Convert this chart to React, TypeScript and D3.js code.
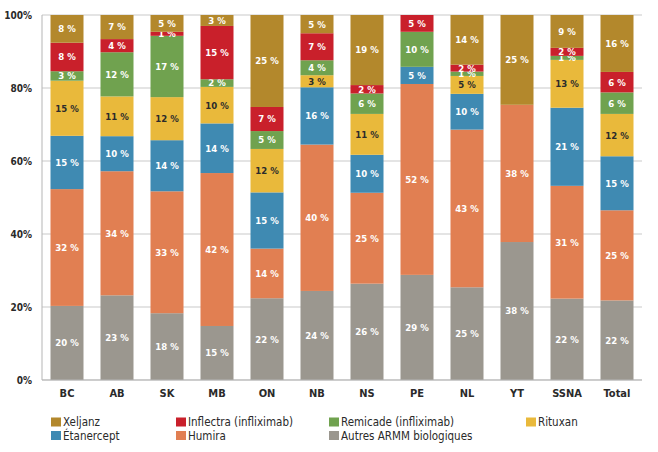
import React from 'react';
import * as d3 from 'd3';

const categories = ['BC', 'AB', 'SK', 'MB', 'ON', 'NB', 'NS', 'PE', 'NL', 'YT', 'SSNA', 'Total'];
const autres = [20.3, 23.2, 18.3, 14.8, 22.4, 24.4, 26.4, 28.8, 25.4, 37.8, 22.3, 21.8];
const humira = [32.0, 34.0, 33.4, 41.9, 13.6, 40.1, 24.9, 52.3, 43.2, 37.6, 30.9, 24.7];
const etanercept = [14.6, 9.6, 14.0, 13.6, 15.4, 15.7, 10.4, 4.7, 9.8, 0, 21.4, 14.8];
const rituxan = [15.1, 10.9, 11.8, 10.0, 11.9, 3.3, 11.2, 0, 4.9, 0, 13.1, 11.6];
const remicade = [2.6, 12.1, 16.8, 2.1, 4.9, 4.1, 5.6, 9.6, 1.2, 0, 1.1, 5.9];
const inflectra = [7.8, 3.6, 1.1, 14.6, 6.6, 7.4, 2.3, 4.6, 1.9, 0, 2.2, 5.6];
const xeljanz = [7.6, 6.6, 4.6, 3.0, 25.2, 5.0, 19.2, 0, 13.6, 24.6, 9.0, 15.6];
const yTicks = [0, 20, 40, 60, 80, 100];

const seriesKeys = ['autres', 'humira', 'etanercept', 'rituxan', 'remicade', 'inflectra', 'xeljanz'];
const seriesNames: Record<string, string> = {
  autres: 'Autres ARMM biologiques',
  humira: 'Humira',
  etanercept: 'Étanercept',
  rituxan: 'Rituxan',
  remicade: 'Remicade (infliximab)',
  inflectra: 'Inflectra (infliximab)',
  xeljanz: 'Xeljanz',
};
const seriesValues: Record<string, number[]> = { autres, humira, etanercept, rituxan, remicade, inflectra, xeljanz };
const colors: Record<string, string> = {
  autres: '#9b978f',
  humira: '#e17f52',
  etanercept: '#3f8ab2',
  rituxan: '#e9b93b',
  remicade: '#70a24f',
  inflectra: '#c9202b',
  xeljanz: '#b3882c',
};
const legendRows = [
  ['xeljanz', 'inflectra', 'remicade', 'rituxan'],
  ['etanercept', 'humira', 'autres'],
];
const legendCols = [51, 176, 329, 526];

const FONT = "'DejaVu Sans Condensed', 'DejaVu Sans', sans-serif";

export default function App() {
  const W = 658, H = 452;
  const left = 42, right = 642, top = 15, bottom = 380;
  const table = categories.map((c, i) => {
    const row: any = { cat: c };
    seriesKeys.forEach(k => (row[k] = seriesValues[k][i]));
    return row;
  });
  const stacked = d3.stack().keys(seriesKeys)(table as any);
  const x = d3.scaleBand().domain(categories).range([left, right]).paddingInner(0.34).paddingOuter(0.17);
  const y = d3.scaleLinear().domain([0, 100]).range([bottom, top]);

  return (
    <svg width={W} height={H} style={{ position: 'absolute', left: 0, top: 0, fontFamily: FONT }}>
      <rect width={W} height={H} fill="#fff" />
      {yTicks.map(t => (
        <g key={t}>
          <line x1={left} x2={right} y1={y(t)} y2={y(t)} stroke="#c9c9c9" strokeWidth={1} />
          <text x={32} y={y(t)} dy="0.35em" textAnchor="end" fontSize={10} fontWeight="bold" fill="#2a2a2a">
            {t}%
          </text>
        </g>
      ))}
      <line x1={left} x2={left} y1={top} y2={bottom} stroke="#b5b5b5" />
      {stacked.map(s => (
        <g key={s.key}>
          {s.map((d, i) => {
            const v = d[1] - d[0];
            if (v <= 0) return null;
            const bx = x(categories[i])!;
            const y0 = y(d[0]), y1 = y(d[1]);
            return (
              <g key={i}>
                <rect x={bx} y={y1} width={x.bandwidth()} height={y0 - y1} fill={colors[s.key]} />
                <text
                  x={bx + x.bandwidth() / 2}
                  y={(y0 + y1) / 2}
                  dy="0.36em"
                  textAnchor="middle"
                  fontSize={9.5}
                  fontWeight="bold"
                  fill={s.key === 'rituxan' ? '#2b2b2b' : '#ffffff'}
                >
                  {Math.round(v)} %
                </text>
              </g>
            );
          })}
        </g>
      ))}
      <line x1={left} x2={right} y1={bottom} y2={bottom} stroke="#b5b5b5" />
      {categories.map(c => (
        <text key={c} x={x(c)! + x.bandwidth() / 2} y={393} dy="0.35em" textAnchor="middle" fontSize={11} fontWeight="bold" fill="#2a2a2a">
          {c}
        </text>
      ))}
      {legendRows.map((row, ri) =>
        row.map((k, ci) => (
          <g key={k} transform={`translate(${legendCols[ci]},${422 + ri * 13.5})`}>
            <rect x={0} y={-4.5} width={10} height={9} fill={colors[k]} />
            <text x={12} y={0} dy="0.35em" fontSize={11.5} fill="#2a2a2a">
              {seriesNames[k]}
            </text>
          </g>
        ))
      )}
    </svg>
  );
}
